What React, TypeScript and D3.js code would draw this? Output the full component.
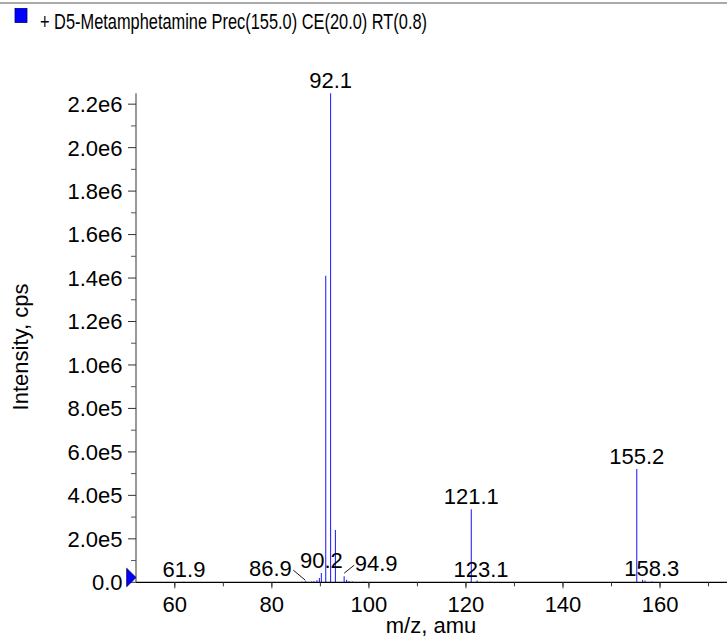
import React from 'react';
import * as d3 from 'd3';

// spectrum peaks (m/z, intensity in cps)
const peakMz = [
  61.9, 65.1, 83.8, 86.2, 86.9, 87.2, 88.2, 88.7, 89.3, 89.8, 90.2, 91.1, 92.1,
  93.1, 94.9, 95.4, 95.9, 96.6, 99.0, 113.9, 121.1, 122.3, 123.1, 124.9, 155.2,
  156.4, 156.9, 158.3, 164.0,
];
const peakIntensity = [
  2000, 1000, 1500, 3000, 5000, 3000, 4000, 5000, 9000, 20000, 43000, 1410000, 2250000,
  241000, 28000, 12000, 6000, 4000, 2000, 1500, 336000, 8000, 3000, 2000, 521000,
  12000, 8000, 4000, 1500,
];
const labelledMz = [61.9, 86.9, 90.2, 92.1, 94.9, 121.1, 123.1, 155.2, 158.3];

const xTicks = [60, 80, 100, 120, 140, 160];
const xTickLabels = ['60', '80', '100', '120', '140', '160'];
const yTicks = [0, 2e5, 4e5, 6e5, 8e5, 1e6, 1.2e6, 1.4e6, 1.6e6, 1.8e6, 2.0e6, 2.2e6];
const yTickLabels = ['0.0', '2.0e5', '4.0e5', '6.0e5', '8.0e5', '1.0e6', '1.2e6', '1.4e6', '1.6e6', '1.8e6', '2.0e6', '2.2e6'];

const title = '+ D5-Metamphetamine Prec(155.0) CE(20.0) RT(0.8)';

const W = 727;
const H = 639;
const FONT = '"Liberation Sans", Arial, sans-serif';

const App: React.FC = () => {
  const margin = { top: 93.3, right: 0, bottom: 56.7, left: 136 };

  const x = d3.scaleLinear().domain([52, 173.8]).range([margin.left, W]);
  const y = d3.scaleLinear().domain([0, 2.25e6]).range([H - margin.bottom, margin.top]);

  const x0 = y(0);
  const minorX = d3.range(60, 171, 10);
  const minorY = d3.range(1e5, 2.25e6, 2e5);

  // labels that are pushed sideways to avoid overlap, with a leader line
  const labelShift: Record<string, number> = { '86.9': -35, '94.9': 32 };

  const peaks = peakMz.map((mz, i) => ({ mz, v: peakIntensity[i] }));

  return (
    <div style={{ position: 'absolute', left: 0, top: 0 }}>
      <svg width={W} height={H} style={{ display: 'block', background: '#fff' }} fontFamily={FONT}>
        {/* top frame line */}
        <line x1={0} x2={W} y1={3} y2={3} stroke="#555" strokeWidth={1.2} />

        {/* legend */}
        <rect x={15} y={8.5} width={12} height={14} fill="#0000ff" stroke="#00007a" strokeWidth={0.8} />
        <text x={40} y={28.5} fontSize={22} fill="#000" textLength={387} lengthAdjust="spacingAndGlyphs">
          {title}
        </text>

        {/* y axis */}
        <line x1={margin.left} x2={margin.left} y1={margin.top} y2={x0} stroke="#777" strokeWidth={1.5} />
        {minorY.map(t => (
          <line key={'my' + t} x1={margin.left - 5} x2={margin.left} y1={y(t)} y2={y(t)} stroke="#555" />
        ))}
        {yTicks.map((t, i) => (
          <g key={'y' + t}>
            <line x1={margin.left - 8} x2={margin.left} y1={y(t)} y2={y(t)} stroke="#333" />
            <text x={122.5} y={y(t)} dy="0.36em" textAnchor="end" fontSize={22} fill="#000">
              {yTickLabels[i]}
            </text>
          </g>
        ))}
        <text
          transform={`translate(28,347) rotate(-90)`}
          textAnchor="middle"
          fontSize={22}
          fill="#000"
        >
          Intensity, cps
        </text>

        {/* peaks */}
        {peaks.map(p => (
          <line
            key={'p' + p.mz}
            x1={x(p.mz)}
            x2={x(p.mz)}
            y1={x0}
            y2={y(p.v)}
            stroke="#2a2aff"
            strokeWidth={1.1}
          />
        ))}

        {/* x axis */}
        <line x1={margin.left} x2={W} y1={x0} y2={x0} stroke="#000" strokeWidth={1.2} />
        {minorX.map(t => (
          <line key={'mx' + t} x1={x(t)} x2={x(t)} y1={x0} y2={x0 + 4} stroke="#333" />
        ))}
        {xTicks.map((t, i) => (
          <g key={'x' + t}>
            <line x1={x(t)} x2={x(t)} y1={x0} y2={x0 + 6} stroke="#333" />
            <text x={x(t)} y={611.5} textAnchor="middle" fontSize={22} fill="#000">
              {xTickLabels[i]}
            </text>
          </g>
        ))}
        <text x={431} y={633} textAnchor="middle" fontSize={22} fill="#000">
          m/z, amu
        </text>

        {/* origin marker */}
        <path
          d={`M126.7,568.3 L126.7,586.7 L${margin.left},577.5 Z`}
          fill="#0000ff"
          stroke="#000060"
          strokeWidth={0.8}
        />

        {/* peak labels */}
        {labelledMz.map(mz => {
          const i = peakMz.indexOf(mz);
          const v = peakIntensity[i];
          const px = x(mz);
          const py = y(v);
          const shift = labelShift[mz.toFixed(1)] || 0;
          const lx = px + shift;
          const ly = Math.min(py - 5, 576.7);
          return (
            <g key={'l' + mz}>
              <text x={lx} y={ly} textAnchor="middle" fontSize={22} fill="#000">
                {mz.toFixed(1)}
              </text>
              {shift < 0 && <line x1={lx + 23} y1={ly - 6} x2={px} y2={py - 1} stroke="#000" strokeWidth={0.9} />}
              {shift > 0 && <line x1={lx - 22} y1={ly - 6} x2={px} y2={py - 3} stroke="#000" strokeWidth={0.9} />}
            </g>
          );
        })}
      </svg>
    </div>
  );
};

export default App;
